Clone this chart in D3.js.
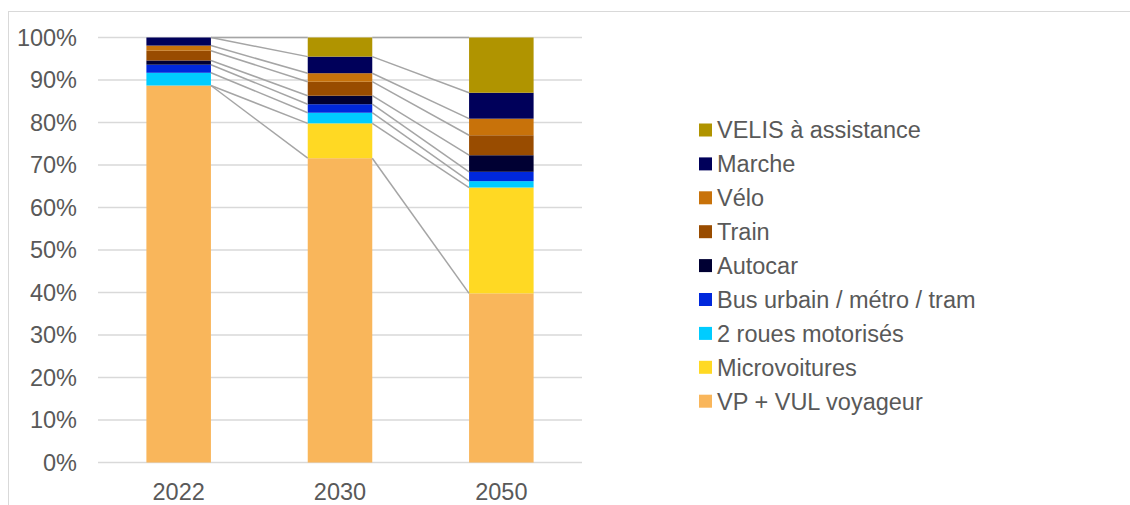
<!DOCTYPE html>
<html>
<head>
<meta charset="utf-8">
<script src="https://cdn.jsdelivr.net/npm/d3@7"></script>
<style>
  body { margin: 0; background: #fff; }
  svg { display: block; font-family: "Liberation Sans", Arial, sans-serif; }
</style>
</head>
<body>
<div id="chart"></div>
<script>
// Data ///////////////////////////////////////////////////////////////////////
const years = ["2022", "2030", "2050"];

// Series in stacking order, bottom to top
const seriesNames = [
  "VP + VUL voyageur",
  "Microvoitures",
  "2 roues motorisés",
  "Bus urbain / métro / tram",
  "Autocar",
  "Train",
  "Vélo",
  "Marche",
  "VELIS à assistance"
];

// Shares in %, one value per year
const vpVul        = [88.7, 71.6, 39.8];
const microvoiture = [0.0, 8.2, 24.9];
const deuxRoues    = [3.0, 2.5, 1.5];
const busUrbain    = [1.9, 2.0, 2.2];
const autocar      = [1.0, 2.0, 3.9];
const train        = [2.3, 3.3, 4.7];
const velo         = [1.2, 2.0, 3.9];
const marche       = [1.9, 3.9, 6.1];
const velis        = [0.0, 4.5, 13.0];

const yTicks = [0, 10, 20, 30, 40, 50, 60, 70, 80, 90, 100];

const seriesValues = [vpVul, microvoiture, deuxRoues, busUrbain, autocar, train, velo, marche, velis];

const colors = ["#F9B65B", "#FFD923", "#00CCFF", "#0028DC", "#000033", "#994C00", "#C8720A", "#00005A", "#B09400"];

// Set up /////////////////////////////////////////////////////////////////////
const width = 1130,
      height = 505;

const fontSize = "23.5px";

const svg = d3.select("#chart").append("svg")
    .attr("width", width)
    .attr("height", height);

// Chart border (only top and left visible)
svg.append("rect")
    .attr("x", 8.5)
    .attr("y", 11.5)
    .attr("width", 1140)
    .attr("height", 520)
    .attr("fill", "none")
    .attr("stroke", "#d9d9d9")
    .attr("stroke-width", 1);

const plot = { left: 98, right: 582, top: 37.5, bottom: 462.5 };

const x = d3.scaleBand()
    .domain(years)
    .range([plot.left, plot.right])
    .paddingInner(0.6)
    .paddingOuter(0.3);

const y = d3.scaleLinear()
    .domain([0, 100])
    .range([plot.bottom, plot.top]);

// Table for the stack
const table = years.map((yr, i) => {
  const row = { year: yr };
  seriesNames.forEach((s, k) => { row[s] = seriesValues[k][i]; });
  return row;
});

const stacked = d3.stack().keys(seriesNames)(table);

// Gridlines //////////////////////////////////////////////////////////////////
svg.append("g")
  .selectAll("line")
  .data(yTicks)
  .enter().append("line")
    .attr("x1", plot.left)
    .attr("x2", plot.right)
    .attr("y1", d => y(d))
    .attr("y2", d => y(d))
    .attr("stroke", "#d9d9d9")
    .attr("stroke-width", 1.3);

// Y labels
svg.append("g")
  .selectAll("text")
  .data(yTicks)
  .enter().append("text")
    .attr("x", 77)
    .attr("y", d => y(d))
    .attr("dy", "0.36em")
    .attr("text-anchor", "end")
    .attr("fill", "#595959")
    .style("font-size", fontSize)
    .text(d => d + "%");

// X labels
svg.append("g")
  .selectAll("text")
  .data(years)
  .enter().append("text")
    .attr("x", d => x(d) + x.bandwidth() / 2)
    .attr("y", 500)
    .attr("text-anchor", "middle")
    .attr("fill", "#595959")
    .style("font-size", fontSize)
    .text(d => d);

// Bars ///////////////////////////////////////////////////////////////////////
svg.append("g")
  .selectAll("g")
  .data(stacked)
  .enter().append("g")
    .attr("fill", (d, k) => colors[k])
  .selectAll("rect")
  .data(d => d)
  .enter().append("rect")
    .attr("x", d => x(d.data.year))
    .attr("width", x.bandwidth())
    .attr("y", d => y(d[1]))
    .attr("height", d => y(d[0]) - y(d[1]));

// Series lines (top of each series between adjacent bars)
const seriesLines = [];
stacked.forEach(s => {
  for (let i = 0; i < years.length - 1; i++) {
    seriesLines.push({ a: s[i], b: s[i + 1] });
  }
});

svg.append("g")
  .selectAll("line")
  .data(seriesLines)
  .enter().append("line")
    .attr("x1", d => x(d.a.data.year) + x.bandwidth())
    .attr("x2", d => x(d.b.data.year))
    .attr("y1", d => y(d.a[1]))
    .attr("y2", d => y(d.b[1]))
    .attr("stroke", "#a5a5a5")
    .attr("stroke-width", 1.5);

// Legend /////////////////////////////////////////////////////////////////////
const legendRowHeight = 33.9;
const legendItems = seriesNames.map((s, k) => ({ name: s, color: colors[k] })).reverse();

const legend = svg.append("g")
    .attr("transform", "translate(699, 130)")
  .selectAll("g")
  .data(legendItems)
  .enter().append("g")
    .attr("transform", (d, i) => `translate(0, ${i * legendRowHeight})`);

legend.append("rect")
    .attr("x", 0)
    .attr("y", -6.5)
    .attr("width", 13)
    .attr("height", 13)
    .attr("fill", d => d.color);

legend.append("text")
    .attr("x", 18)
    .attr("y", 0)
    .attr("dy", "0.36em")
    .attr("fill", "#595959")
    .style("font-size", fontSize)
    .text(d => d.name);
</script>
</body>
</html>
